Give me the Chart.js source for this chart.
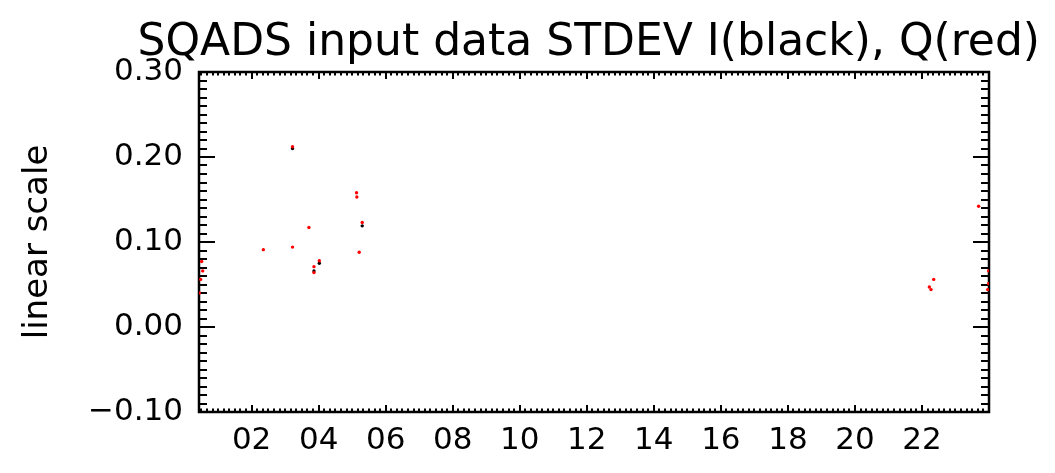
<!DOCTYPE html>
<html lang="en">
<head>
    <meta charset="UTF-8">
    <title>SQADS input data STDEV</title>
    <style>
        body {
            margin: 0;
            background: #fff;
        }
    </style>
    <script src="https://cdn.jsdelivr.net/npm/chart.js"></script>
    <script>
        // hours of day (decimal) and STDEV values
        const qHours = [3.22, 5.13, 5.14, 5.30, 3.71, 2.35, 3.22, 5.21, 4.02, 3.86, 3.86,
                        0.51, 0.54, 0.48, 0.44, 23.69, 22.35, 22.27, 22.22, 23.99, 23.99, 23.96];
        const qValues = [0.212, 0.158, 0.153, 0.123, 0.117, 0.091, 0.094, 0.088, 0.078, 0.071, 0.064,
                         0.077, 0.066, 0.056, 0.040, 0.142, 0.056, 0.044, 0.047, 0.066, 0.051, 0.044];
        const iHours = [3.22, 5.30, 4.02, 3.86];
        const iValues = [0.210, 0.119, 0.075, 0.066];

        const xTicks = [2, 4, 6, 8, 10, 12, 14, 16, 18, 20, 22];
        const yTicks = [-0.1, 0, 0.1, 0.2, 0.3];
        const xMin = 0.43, xMax = 24.0;
        const yMin = -0.1, yMax = 0.3;

        function toPoints(xs, ys) {
            return xs.map((h, i) => ({ x: h, y: ys[i] }));
        }

        // IDL style frame with inward ticks on all four sides
        const frameTicks = {
            id: 'frameTicks',
            beforeDatasetsDraw(chart) {
                const { ctx, chartArea: a, scales: { x, y } } = chart;
                ctx.save();
                ctx.strokeStyle = '#000';
                ctx.lineWidth = 2;
                ctx.beginPath();
                for (let i = Math.ceil(xMin * 6); i <= Math.floor(xMax * 6); i++) {
                    const px = Math.round(x.getPixelForValue(i / 6));
                    const len = i % 12 === 0 ? 7 : 3.5;
                    ctx.moveTo(px, a.bottom); ctx.lineTo(px, a.bottom - len);
                    ctx.moveTo(px, a.top); ctx.lineTo(px, a.top + len);
                }
                for (let i = -10; i <= 30; i++) {
                    const py = Math.round(y.getPixelForValue(i / 100));
                    const len = i % 10 === 0 ? 16 : 8;
                    ctx.moveTo(a.left, py); ctx.lineTo(a.left + len, py);
                    ctx.moveTo(a.right, py); ctx.lineTo(a.right - len, py);
                }
                ctx.stroke();
                ctx.lineWidth = 2.5;
                ctx.strokeRect(a.left, a.top, a.right - a.left, a.bottom - a.top);
                ctx.restore();
            }
        };

        function createChart() {
            Chart.defaults.font.family = 'DejaVu Sans';
            Chart.defaults.color = '#000';
            const ctx = document.getElementById('stdevChart').getContext('2d');
            new Chart(ctx, {
                type: 'scatter',
                data: {
                    datasets: [{
                        label: 'Q',
                        data: toPoints(qHours, qValues),
                        backgroundColor: '#ff0000',
                        pointRadius: 1.7,
                        pointBorderWidth: 0
                    }, {
                        label: 'I',
                        data: toPoints(iHours, iValues),
                        backgroundColor: '#000000',
                        pointRadius: 1.7,
                        pointBorderWidth: 0
                    }]
                },
                options: {
                    responsive: false,
                    animation: false,
                    devicePixelRatio: 1,
                    layout: { padding: { left: 0, right: 15, top: 0, bottom: 0 } },
                    plugins: {
                        legend: { display: false },
                        tooltip: { enabled: false },
                        title: {
                            display: true,
                            align: 'end',
                            text: 'SQADS input data STDEV I(black), Q(red)',
                            font: { size: 44, weight: 'normal' },
                            color: '#000',
                            padding: { top: 17.5, bottom: 1.7 }
                        }
                    },
                    scales: {
                        x: {
                            type: 'linear',
                            min: xMin,
                            max: xMax,
                            grid: { display: false, drawTicks: false },
                            border: { display: false },
                            afterBuildTicks: s => { s.ticks = xTicks.map(v => ({ value: v })); },
                            afterFit: s => { s.height = 61; },
                            ticks: {
                                padding: 10,
                                maxRotation: 0,
                                font: { size: 31 },
                                callback: v => String(v).padStart(2, '0')
                            }
                        },
                        y: {
                            min: yMin,
                            max: yMax,
                            grid: { display: false, drawTicks: false },
                            border: { display: false },
                            afterBuildTicks: s => { s.ticks = yTicks.map(v => ({ value: v })); },
                            afterFit: s => { s.width = 199; },
                            title: {
                                display: true,
                                text: 'linear scale',
                                font: { size: 34 },
                                padding: { top: 18, bottom: 0 }
                            },
                            ticks: {
                                padding: 16,
                                font: { size: 31 },
                                callback: v => (v < 0 ? '\u2212' : '') + Math.abs(v).toFixed(2)
                            }
                        },
                        // empty right margin between frame and canvas edge
                        yRight: {
                            position: 'right',
                            min: yMin,
                            max: yMax,
                            grid: { display: false, drawTicks: false },
                            border: { display: false },
                            ticks: { display: false },
                            afterFit: s => { s.width = 51; }
                        }
                    }
                },
                plugins: [frameTicks]
            });
        }

        window.onload = () => {
            createChart();
        };
    </script>
</head>
<body>
    <canvas id="stdevChart" width="1055" height="473"></canvas>
</body>
</html>
